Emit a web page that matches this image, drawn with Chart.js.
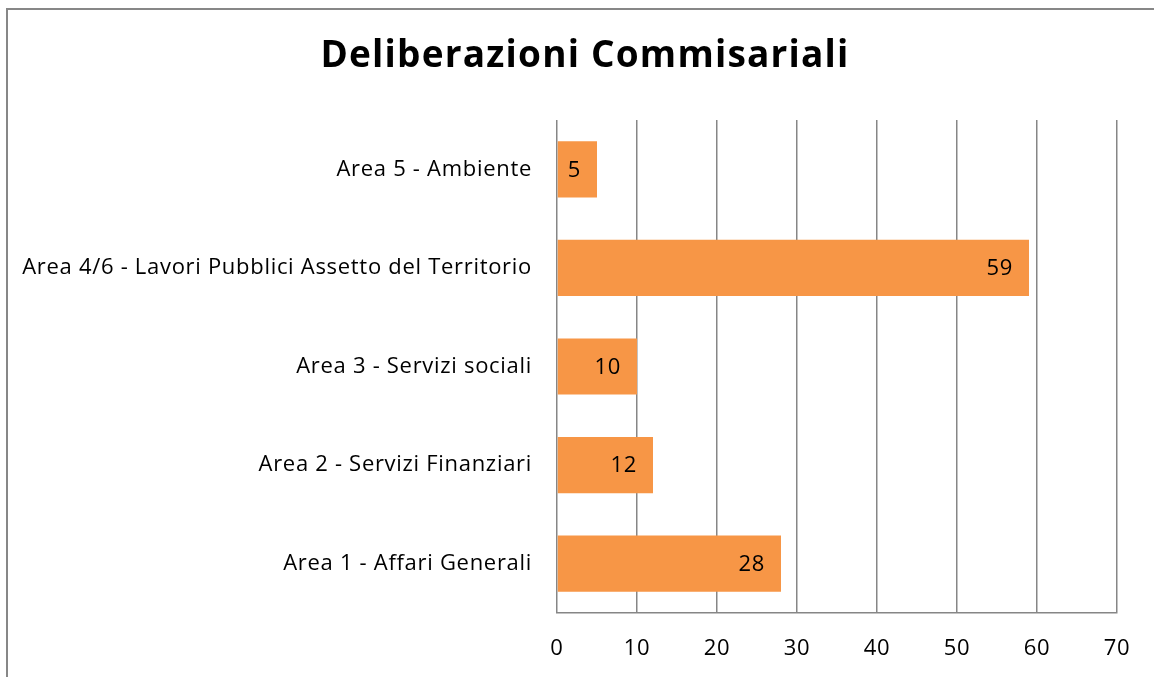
<!DOCTYPE html>
<html>
<head>
<meta charset="utf-8">
<script src="https://cdn.jsdelivr.net/npm/chart.js@4"></script>
<style>
  body { margin: 0; background: #fff; overflow: hidden; }
  #frame { position: absolute; left: 6px; top: 8px; width: 1200px; height: 700px;
           border-left: 2px solid #878787; border-top: 2px solid #878787; }
  #chart { position: absolute; left: 0; top: 0; }
</style>
</head>
<body>
<div id="frame"></div>
<canvas id="chart" width="1154" height="677"></canvas>
<script>
const chartTitle = 'Deliberazioni Commisariali';
const categories = [
  'Area 5 - Ambiente',
  'Area 4/6 - Lavori Pubblici Assetto del Territorio',
  'Area 3 - Servizi sociali',
  'Area 2 - Servizi Finanziari',
  'Area 1 - Affari Generali'
];
const values = [5, 59, 10, 12, 28];
const xTicks = [0, 10, 20, 30, 40, 50, 60, 70];

const fontFamily = '"Open Sans", "Liberation Sans", sans-serif';
const gridColor = '#868686';

// spaziatura del testo un po' più larga, come nell'originale
const spacing = {
  id: 'spacing',
  beforeDraw(chart) { chart.ctx.letterSpacing = '0.7px'; }
};

// titolo + numeri dentro la fine della barra
const barLabels = {
  id: 'barLabels',
  afterDraw(chart) {
    const ctx = chart.ctx;
    const meta = chart.getDatasetMeta(0);
    ctx.save();
    ctx.fillStyle = '#000';
    ctx.letterSpacing = '0.7px';
    ctx.font = '22px ' + fontFamily;
    ctx.textAlign = 'right';
    ctx.textBaseline = 'middle';
    meta.data.forEach((bar, i) => {
      ctx.fillText(String(values[i]), bar.x - 16, bar.y + 1);
    });

    ctx.letterSpacing = '1.2px';
    ctx.font = 'bold 37px ' + fontFamily;
    ctx.textAlign = 'center';
    ctx.textBaseline = 'alphabetic';
    ctx.fillText(chartTitle, 585, 67);
    ctx.restore();
  }
};

const ctx = document.getElementById('chart').getContext('2d');
const chart = new Chart(ctx, {
  type: 'bar',
  data: {
    labels: categories,
    datasets: [{
      data: values,
      backgroundColor: '#F79646',
      borderWidth: 0,
      barPercentage: 1,
      categoryPercentage: 0.57
    }]
  },
  options: {
    indexAxis: 'y',
    responsive: false,
    animation: false,
    layout: { padding: { left: 0, right: 37, top: 120, bottom: 0 } },
    plugins: {
      legend: { display: false },
      tooltip: { enabled: false },
      title: { display: false }
    },
    scales: {
      x: {
        min: 0,
        max: 70,
        afterBuildTicks: (scale) => { scale.ticks = xTicks.map(v => ({ value: v })); },
        afterFit: (scale) => { scale.height = 64; },
        ticks: {
          color: '#000',
          font: { family: fontFamily, size: 22 },
          padding: 23
        },
        grid: { color: gridColor, lineWidth: 1.5, drawTicks: false },
        border: { display: true, color: gridColor, width: 1.5 }
      },
      y: {
        afterFit: (scale) => { scale.width = 557; },
        ticks: {
          color: '#000',
          font: { family: fontFamily, size: 22 },
          padding: 25
        },
        grid: { display: false, drawTicks: false },
        border: { display: false }
      }
    }
  },
  plugins: [spacing, barLabels]
});
</script>
</body>
</html>
